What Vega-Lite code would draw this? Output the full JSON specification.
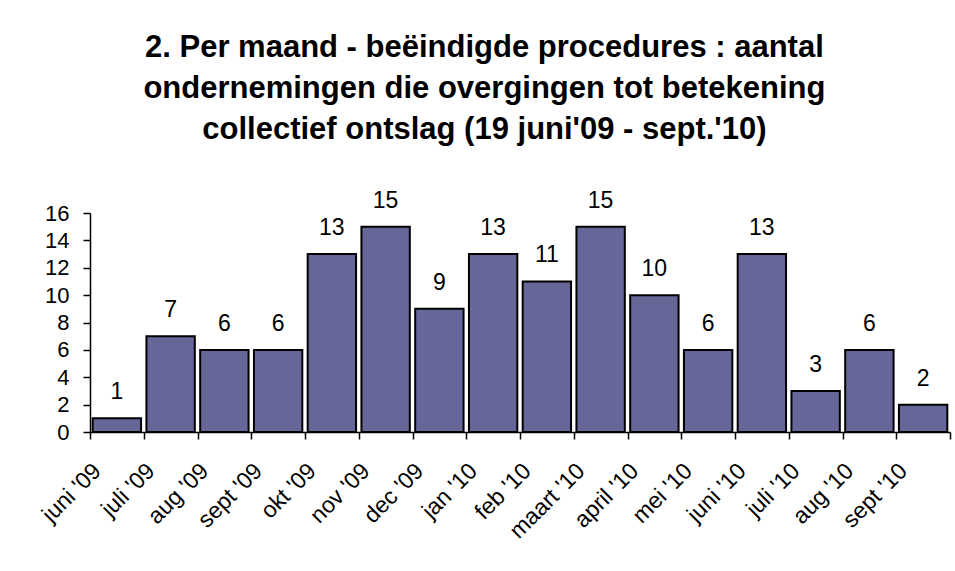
{
  "$schema": "https://vega.github.io/schema/vega-lite/v6.json",
  "width": 860,
  "height": 219,
  "autosize": "none",
  "padding": {"left": 90, "top": 213, "right": 5, "bottom": 139},
  "background": "white",
  "config": {"view": {"stroke": null}, "font": "Liberation Sans"},
  "title": {
    "text": ["2. Per maand - beëindigde procedures : aantal", "ondernemingen die overgingen tot betekening", "collectief ontslag (19 juni'09 - sept.'10)"],
    "font": "Liberation Sans",
    "fontSize": 31,
    "fontWeight": "bold",
    "lineHeight": 41,
    "color": "black",
    "anchor": "middle",
    "frame": "bounds",
    "offset": 44,
    "dx": -10
  },
  "data": {
    "values": [
      {"maand": "juni '09", "aantal": 1},
      {"maand": "juli '09", "aantal": 7},
      {"maand": "aug '09", "aantal": 6},
      {"maand": "sept '09", "aantal": 6},
      {"maand": "okt '09", "aantal": 13},
      {"maand": "nov '09", "aantal": 15},
      {"maand": "dec '09", "aantal": 9},
      {"maand": "jan '10", "aantal": 13},
      {"maand": "feb '10", "aantal": 11},
      {"maand": "maart '10", "aantal": 15},
      {"maand": "april '10", "aantal": 10},
      {"maand": "mei '10", "aantal": 6},
      {"maand": "juni '10", "aantal": 13},
      {"maand": "juli '10", "aantal": 3},
      {"maand": "aug '10", "aantal": 6},
      {"maand": "sept '10", "aantal": 2}
    ]
  },
  "encoding": {
    "x": {
      "field": "maand",
      "type": "nominal",
      "sort": null,
      "scale": {"paddingInner": 0, "paddingOuter": 0},
      "axis": {
        "title": null,
        "tickBand": "extent",
        "domainColor": "black",
        "domainWidth": 1.5,
        "tickColor": "black",
        "tickWidth": 1.5,
        "tickSize": 7,
        "labelAngle": -45,
        "labelAlign": "right",
        "labelBaseline": "middle",
        "labelFont": "Liberation Sans",
        "labelFontSize": 23,
        "labelColor": "black",
        "labelPadding": 28,
        "labelOffset": -20
      }
    },
    "y": {
      "field": "aantal",
      "type": "quantitative",
      "scale": {"domain": [0, 16], "nice": false},
      "axis": {
        "title": null,
        "values": [0, 2, 4, 6, 8, 10, 12, 14, 16],
        "grid": false,
        "domainColor": "black",
        "domainWidth": 1.5,
        "tickColor": "black",
        "tickWidth": 1.5,
        "tickSize": 7,
        "labelFont": "Liberation Sans",
        "labelFontSize": 22,
        "labelColor": "black",
        "labelPadding": 14
      }
    }
  },
  "layer": [
    {
      "mark": {"type": "bar", "width": {"band": 0.9}, "fill": "#666699", "stroke": "black", "strokeWidth": 2}
    },
    {
      "mark": {"type": "text", "baseline": "alphabetic", "dy": -19, "fontSize": 23, "font": "Liberation Sans", "color": "black"},
      "encoding": {"text": {"field": "aantal", "type": "quantitative"}}
    }
  ]
}
